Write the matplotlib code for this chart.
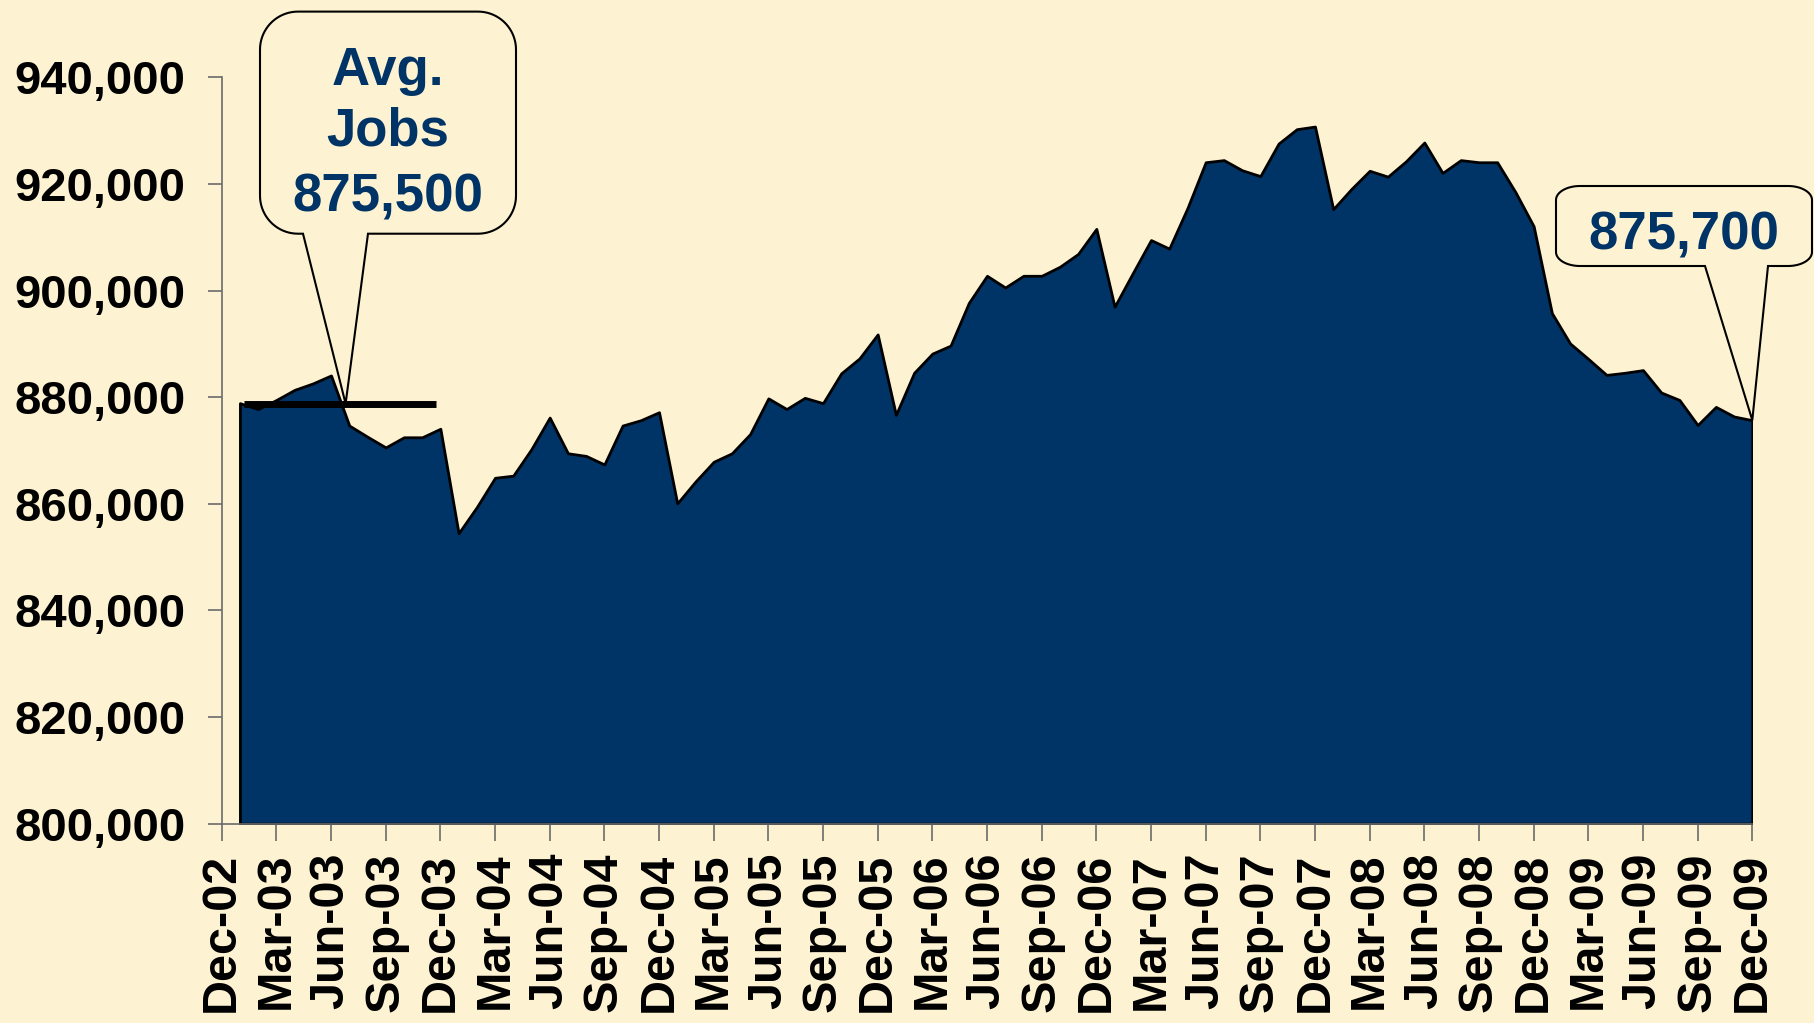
import matplotlib
matplotlib.use("Agg")
import matplotlib.pyplot as plt
import numpy as np
from matplotlib.patches import Polygon
from matplotlib.ticker import StrMethodFormatter

# monthly jobs, Jan-03 .. Dec-09
jobs = [
    878900, 877800, 879500, 881400, 882600, 884100, 874700, 872600, 870600, 872500, 872500, 874100,
    854500, 859400, 864900, 865300, 870300, 876200, 869500, 869000, 867400, 874700, 875700, 877200,
    860100, 864200, 867900, 869500, 873100, 879800, 877800, 879900, 878900, 884500, 887300, 891800,
    876700, 884600, 888200, 889700, 897700, 902800, 900600, 902800, 902800, 904500, 906900, 911600,
    897000, 903300, 909500, 907900, 915500, 924100, 924500, 922600, 921500, 927600, 930300, 930800,
    915300, 919100, 922500, 921400, 924300, 927800, 922100, 924500, 924100, 924100, 918500, 912100,
    895800, 890100, 887200, 884200, 884600, 885100, 880900, 879500, 874800, 878200, 876400, 875700,
]
tick_labels = [
    "Dec-02", "Mar-03", "Jun-03", "Sep-03", "Dec-03", "Mar-04", "Jun-04", "Sep-04",
    "Dec-04", "Mar-05", "Jun-05", "Sep-05", "Dec-05", "Mar-06", "Jun-06", "Sep-06",
    "Dec-06", "Mar-07", "Jun-07", "Sep-07", "Dec-07", "Mar-08", "Jun-08", "Sep-08",
    "Dec-08", "Mar-09", "Jun-09", "Sep-09", "Dec-09",
]
avg_level = 878800          # where the avg bar is drawn
avg_span = (1.2, 11.75)     # months covered by the avg bar
avg_text = ["Avg.", "Jobs", "875,500"]
last_text = "875,700"

BG = "#FDF3D3"
NAVY = "#003366"
AXIS = "#6b6b6b"
W, H = 1814, 1023

plt.rcParams["font.family"] = ["Liberation Sans", "DejaVu Sans"]
plt.rcParams["font.weight"] = "bold"

fig = plt.figure(figsize=(W / 100, H / 100), dpi=100)
fig.patch.set_facecolor(BG)
ax = fig.add_axes([221.7 / W, 1 - 823.7 / H, (1752.3 - 221.7) / W, (823.7 - 77.5) / H])
ax.set_facecolor(BG)

x = np.arange(1, len(jobs) + 1)
ax.fill_between(x, 800000, jobs, facecolor=NAVY, edgecolor="black", linewidth=2, zorder=2)
ax.plot(avg_span, [avg_level, avg_level], color="black", linewidth=5,
        solid_capstyle="butt", zorder=4)

ax.set_xlim(0, 84)
ax.set_ylim(800000, 940000)
ax.set_xticks(np.arange(0, 85, 3))
ax.set_xticklabels(tick_labels, rotation=90, fontsize=35, fontweight="bold")
ax.set_yticks(np.arange(800000, 940001, 20000))
ax.yaxis.set_major_formatter(StrMethodFormatter("{x:,.0f}"))
for lab in ax.get_yticklabels():
    lab.set_fontsize(34)
    lab.set_fontweight("bold")
ax.tick_params(axis="y", length=10, width=1.2, color=AXIS, pad=16)
ax.tick_params(axis="x", length=12, width=1.2, color=AXIS, pad=9)
for s in ("top", "right"):
    ax.spines[s].set_visible(False)
for s in ("left", "bottom"):
    ax.spines[s].set_color(AXIS)
    ax.spines[s].set_linewidth(1.2)


def callout(box, base, tip_data, rx, ry):
    """Rounded box with a wedge pointing at a data point (box in pixels, y down)."""
    x0, y0, x1, y1 = box
    tx, ty = ax.transData.transform(tip_data)
    ty = H - ty
    pts = [(base[0], y1), (tx, ty), (base[1], y1)]
    corners = [((x1 - rx, y1 - ry), 90, 0), ((x1 - rx, y0 + ry), 0, -90),
               ((x0 + rx, y0 + ry), -90, -180), ((x0 + rx, y1 - ry), 180, 90)]
    for (cx, cy), a0, a1 in corners:
        t = np.radians(np.linspace(a0, a1, 20))
        pts += list(zip(cx + rx * np.cos(t), cy + ry * np.sin(t)))
    frac = [(px / W, 1 - py / H) for px, py in pts]
    ax.add_patch(Polygon(frac, closed=True, transform=fig.transFigure, facecolor=BG,
                         edgecolor="black", linewidth=1.5, clip_on=False, zorder=5))


callout((260, 11.6, 516, 233.7), (303, 368), (6.8, avg_level), 38, 38)
callout((1556, 186, 1812, 266), (1705, 1768), (84, jobs[-1]), 24, 14)

for txt, base_y in zip(avg_text, [84.5, 146, 211]):
    fig.text(387.5 / W, 1 - base_y / H, txt, ha="center", va="baseline",
             fontsize=38, fontweight="bold", color=NAVY, zorder=10)
fig.text(1684 / W, 1 - 250 / H, last_text, ha="center", va="baseline",
         fontsize=38, fontweight="bold", color=NAVY, zorder=10)

fig.savefig("out.png", dpi=100, facecolor=BG)
